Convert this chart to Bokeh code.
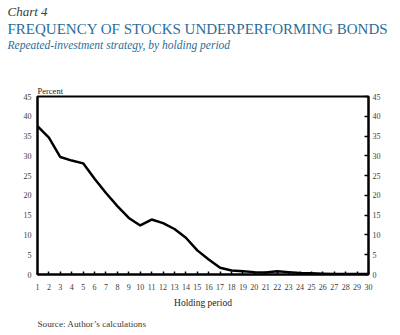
from bokeh.plotting import figure
from bokeh.models import Range1d, LinearAxis, FixedTicker, Title
from bokeh.embed import file_html
from bokeh.resources import INLINE

# Data
holding_period = list(range(1, 31))
pct_underperform = [37.5, 34.6, 29.7, 28.8, 28.1, 24.2, 20.6, 17.3, 14.3, 12.4,
                    13.9, 13.0, 11.5, 9.3, 6.1, 3.8, 1.7, 1.0, 0.8, 0.6,
                    0.5, 0.8, 0.6, 0.4, 0.3, 0.2, 0.1, 0.1, 0.1, 0.1]
y_ticks = [0, 5, 10, 15, 20, 25, 30, 35, 40, 45]

SERIF = "Liberation Serif"
BLUE = "#2b6d96"
GREY = "#3a3a3a"

p = figure(width=400, height=335, output_backend="svg", toolbar_location=None,
           x_range=Range1d(1, 30), y_range=Range1d(0, 45),
           min_border_left=37, min_border_right=32, min_border_top=96, min_border_bottom=61,
           y_axis_location=None, x_axis_location=None)
p.title = None
p.background_fill_color = "white"
p.border_fill_color = "white"
p.outline_line_color = "black"
p.outline_line_width = 2
p.xgrid.visible = False
p.ygrid.visible = False

def style_axis(ax, size="8px"):
    ax.axis_line_color = "black"
    ax.axis_line_width = 2
    ax.major_tick_line_color = "black"
    ax.major_tick_line_width = 1.5
    ax.minor_tick_line_color = None
    ax.major_label_text_font = SERIF
    ax.major_label_text_font_size = size
    ax.major_label_text_color = GREY

left = LinearAxis(ticker=FixedTicker(ticks=y_ticks))
style_axis(left)
left.major_tick_in = 0
left.major_tick_out = 0
left.major_label_standoff = 6
p.add_layout(left, "left")

right = LinearAxis(ticker=FixedTicker(ticks=y_ticks))
style_axis(right)
right.major_tick_in = 4
right.major_tick_out = 0
right.major_label_standoff = 4
p.add_layout(right, "right")

bottom = LinearAxis(ticker=FixedTicker(ticks=holding_period), axis_label="Holding period")
style_axis(bottom)
bottom.major_tick_in = 3
bottom.major_tick_out = 0
bottom.major_label_standoff = 9
bottom.axis_label_text_font = SERIF
bottom.axis_label_text_font_size = "9.5px"
bottom.axis_label_text_font_style = "normal"
bottom.axis_label_text_color = "#222222"
bottom.axis_label_standoff = 5
p.add_layout(bottom, "below")

p.line(holding_period, pct_underperform, line_color="black", line_width=2.5)

def mk_title(text, size, color, style, offset, standoff):
    return Title(text=text, align="left", offset=offset, standoff=standoff,
                 text_font=SERIF, text_font_size=size, text_color=color,
                 text_font_style=style)

# stacked from the frame outward
p.add_layout(mk_title("Percent", "8.5px", "#222222", "normal", 0, 1), "above")
p.add_layout(mk_title(" ", "28px", "white", "normal", 0, 0), "above")  # vertical spacer
p.add_layout(mk_title("Repeated-investment strategy, by holding period", "11.5px", BLUE, "italic", -30, 0), "above")
p.add_layout(mk_title("FREQUENCY OF STOCKS UNDERPERFORMING BONDS", "15px", BLUE, "normal", -30, 0), "above")
p.add_layout(mk_title("Chart 4", "13px", GREY, "italic", -30, 0), "above")
p.add_layout(mk_title("Source: Author\u2019s calculations", "9.2px", GREY, "normal", 0, 12), "below")

open("out.html", "w").write(file_html(p, INLINE))
